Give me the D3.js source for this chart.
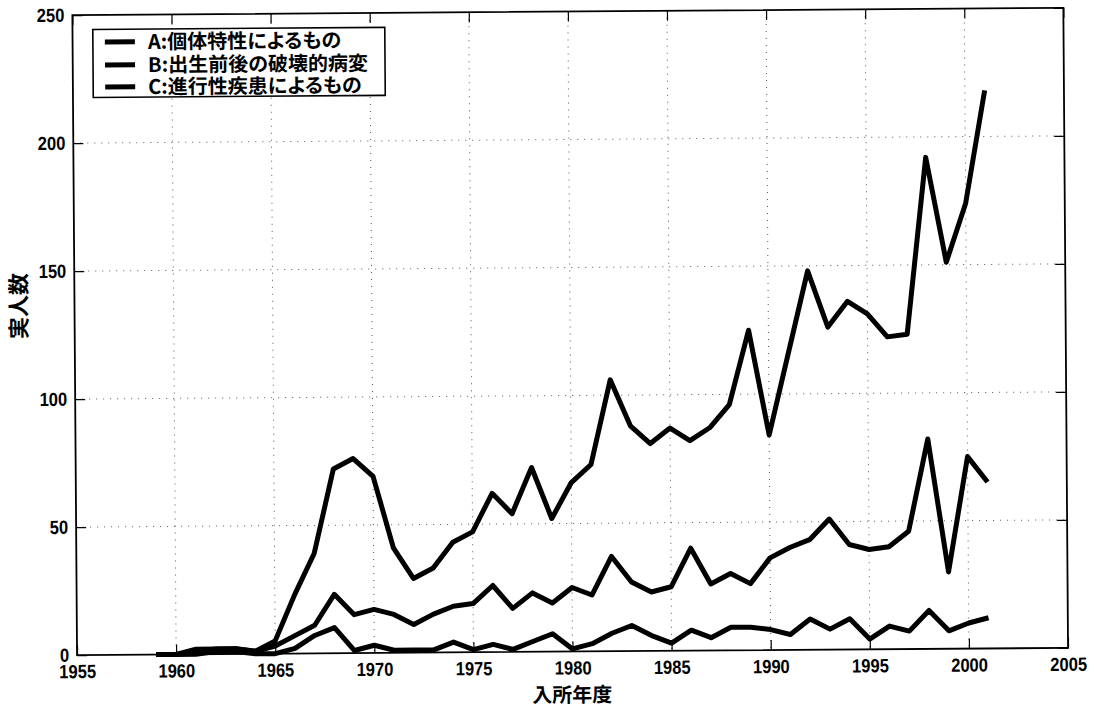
<!DOCTYPE html>
<html>
<head>
<meta charset="utf-8">
<script src="https://cdn.jsdelivr.net/npm/d3@7/dist/d3.min.js"></script>
<style>
html,body{margin:0;padding:0;background:#fff;}
svg{display:block;}
.tick-lbl{font-family:"Liberation Sans",Arial,sans-serif;font-weight:bold;font-size:19px;fill:#000;}
.cjk{font-family:"Noto Sans CJK JP","Noto Sans CJK SC",sans-serif;font-weight:bold;fill:#000;font-feature-settings:"palt" 1;}
</style>
</head>
<body>
<svg id="chart" width="1098" height="715"></svg>
<script>
// ---- data ----
const years = [1959,1960,1961,1962,1963,1964,1965,1966,1967,1968,1969,1970,1971,1972,1973,1974,1975,1976,1977,1978,1979,1980,1981,1982,1983,1984,1985,1986,1987,1988,1989,1990,1991,1992,1993,1994,1995,1996,1997,1998,1999,2000,2001];
const seriesA = [0,0,2,2,2,1,5,23,39,72,76,69,41,29,33,43,47,62,54,72,52,66,73,106,88,81,87,82,87,96,125,84,116,148,126,136,131,122,123,192,151,174,218];
const seriesB = [0,0,1,2,2,1,3,7,11,23,15,17,15,11,15,18,19,26,17,23,19,25,22,37,27,23,25,40,26,30,26,36,40,43,51,41,39,40,46,82,30,75,65];
const seriesC = [0,0,0,1,1,0,0,2,7,10,1,3,1,1,1,4,1,3,1,4,7,1,3,7,10,6,3,8,5,9,9,8,6,12,8,12,4,9,7,15,7,10,12];
const seriesNames = ["A:個体特性によるもの","B:出生前後の破壊的病変","C:進行性疾患によるもの"];
const xTicks = [1955,1960,1965,1970,1975,1980,1985,1990,1995,2000,2005];
const yTicks = [0,50,100,150,200,250];
const xTitle = "入所年度";
const yTitle = "実人数";

// ---- layout ----
const L = 74.7, R = 1065.7, T = 11.5, B = 651.5;
const svg = d3.select("#chart");
svg.append("rect").attr("width",1098).attr("height",715).attr("fill","#fff");
const g = svg.append("g").attr("transform","rotate(-0.42,570.2,331.5)");

const x = d3.scaleLinear().domain([1955,2005]).range([L,R]);
const y = d3.scaleLinear().domain([0,250]).range([B,T]);

// grid
const grid = g.append("g").attr("stroke","#555").attr("stroke-width",1).attr("stroke-dasharray","1,6");
grid.selectAll("line.gx").data(xTicks.slice(1,-1)).join("line")
  .attr("x1",d=>x(d)).attr("x2",d=>x(d)).attr("y1",T).attr("y2",B);
grid.selectAll("line.gy").data(yTicks.slice(1,-1)).join("line")
  .attr("x1",L).attr("x2",R).attr("y1",d=>y(d)).attr("y2",d=>y(d));

// axes (ticks inward)
const tl = 10;
const axB = g.append("g").attr("transform",`translate(0,${B})`)
  .call(d3.axisBottom(x).tickValues(xTicks).tickFormat(d3.format("d")).tickSizeInner(-tl).tickSizeOuter(0).tickPadding(9.5));
const axT = g.append("g").attr("transform",`translate(0,${T})`)
  .call(d3.axisTop(x).tickValues(xTicks).tickFormat("").tickSizeInner(-tl).tickSizeOuter(0));
const axL = g.append("g").attr("transform",`translate(${L},0)`)
  .call(d3.axisLeft(y).tickValues(yTicks).tickSizeInner(-tl).tickSizeOuter(0).tickPadding(8));
const axR = g.append("g").attr("transform",`translate(${R},0)`)
  .call(d3.axisRight(y).tickValues(yTicks).tickFormat("").tickSizeInner(-tl).tickSizeOuter(0));
[axB,axT,axL,axR].forEach(a=>{
  a.select(".domain").remove();
  a.selectAll(".tick line").attr("stroke","#000").attr("stroke-width",1.2);
  a.selectAll(".tick text").attr("class","tick-lbl").attr("fill","#000")
    .attr("lengthAdjust","spacingAndGlyphs")
    .attr("textLength",function(){ return this.textContent.length*9.2; });
});
axB.selectAll(".tick text").attr("dy","0.71em");
// frame
g.append("rect").attr("x",L).attr("y",T).attr("width",R-L).attr("height",B-T)
  .attr("fill","none").attr("stroke","#000").attr("stroke-width",1.8);

// lines
const allSeries = [seriesA,seriesB,seriesC];
const line = d3.line().x((d,i)=>x(years[i])).y(d=>y(d));
g.append("g").selectAll("path").data(allSeries).join("path")
  .attr("d",d=>line(d)).attr("fill","none").attr("stroke","#000")
  .attr("stroke-width",5).attr("stroke-linejoin","round").attr("stroke-linecap","butt");

// legend
const lg = g.append("g");
lg.append("rect").attr("x",95).attr("y",26).attr("width",292).attr("height",68)
  .attr("fill","#fff").attr("stroke","#000").attr("stroke-width",1.6);
const rowY = [38.6,61.6,83.6];
seriesNames.forEach((n,i)=>{
  lg.append("line").attr("x1",107).attr("x2",137).attr("y1",rowY[i]).attr("y2",rowY[i])
    .attr("stroke","#000").attr("stroke-width",5);
  lg.append("text").attr("class","cjk").attr("x",150).attr("y",rowY[i]).attr("dy","0.36em")
    .attr("font-size",20).text(n);
});

// titles
g.append("text").attr("class","cjk").attr("x",569.5).attr("y",702)
  .attr("text-anchor","middle").attr("font-size",20).text(xTitle);
g.append("text").attr("class","cjk").attr("transform","translate(19,302) rotate(-90)")
  .attr("dy","0.36em").attr("text-anchor","middle").attr("font-size",22).text(yTitle);
</script>
</body>
</html>
